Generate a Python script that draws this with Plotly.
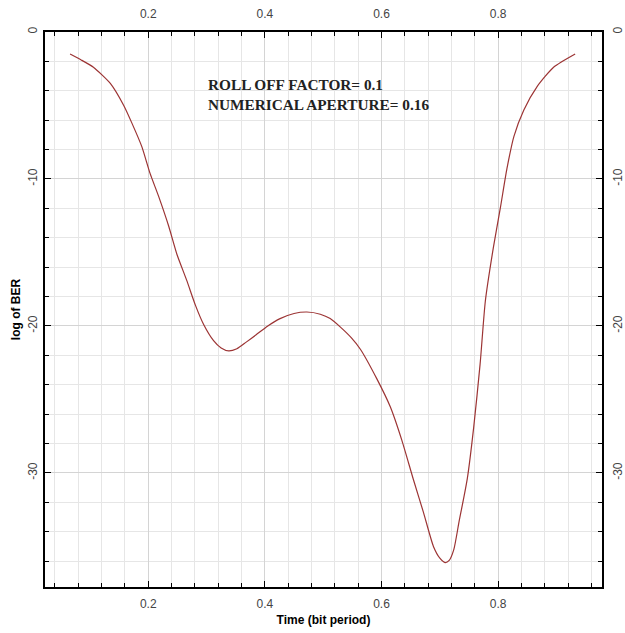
import plotly.graph_objects as go

# Data
time_bit_period = [0.066, 0.085, 0.106, 0.135, 0.158, 0.172, 0.189, 0.203, 0.218, 0.235,
                   0.249, 0.266, 0.281, 0.295, 0.312, 0.325, 0.338, 0.352, 0.368, 0.385,
                   0.405, 0.426, 0.450, 0.472, 0.495, 0.512, 0.530, 0.548, 0.564, 0.592,
                   0.615, 0.635, 0.655, 0.672, 0.689, 0.700, 0.709, 0.716, 0.724, 0.733,
                   0.747, 0.758, 0.769, 0.778, 0.792, 0.804, 0.815, 0.827, 0.844, 0.867,
                   0.895, 0.932]
log_ber = [-1.5, -1.9, -2.4, -3.5, -5.0, -6.2, -7.8, -9.6, -11.2, -13.2,
           -15.1, -16.9, -18.6, -19.9, -21.0, -21.5, -21.7, -21.55, -21.1, -20.6,
           -20.0, -19.5, -19.15, -19.05, -19.2, -19.5, -20.1, -20.8, -21.6, -23.6,
           -25.5, -27.8, -30.5, -32.7, -35.0, -35.8, -36.1, -35.95, -35.2, -33.3,
           -30.4, -26.9, -22.6, -18.3, -14.6, -11.9, -9.3, -7.1, -5.3, -3.7,
           -2.4, -1.5]

x_ticks = [0.2, 0.4, 0.6, 0.8]
y_ticks = [0, -10, -20, -30]
annotation_lines = ["ROLL OFF FACTOR= 0.1", "NUMERICAL APERTURE= 0.16"]

x_range = [0.023, 0.978]
y_range = [-37.76, 0]

fig = go.Figure()
fig.add_trace(go.Scatter(x=time_bit_period, y=log_ber, mode="lines",
                         line=dict(color="#9c3434", width=1.2, shape="spline", smoothing=0.6),
                         showlegend=False, hoverinfo="skip"))
# invisible copy to activate the mirrored (top/right) labelled axes
fig.add_trace(go.Scatter(x=time_bit_period, y=log_ber, mode="lines", xaxis="x2", yaxis="y2",
                         line=dict(color="rgba(0,0,0,0)", width=0), showlegend=False,
                         hoverinfo="skip"))

tickfont = dict(family="Arial, Liberation Sans", size=12, color="#444")
grid_major = "#d4d4d4"
grid_minor = "#e6e6e6"

common_x = dict(range=x_range, tickvals=x_ticks, ticktext=[str(v) for v in x_ticks],
                tickfont=tickfont, showline=True, linecolor="black", linewidth=2,
                ticks="inside", ticklen=6, tickcolor="black", zeroline=False, automargin=False)
common_y = dict(range=y_range, tickvals=y_ticks, ticktext=[str(v) for v in y_ticks],
                tickfont=tickfont, tickangle=-90, showline=True, linecolor="black", linewidth=2,
                ticks="inside", ticklen=6, tickcolor="black", zeroline=False, automargin=False)

fig.update_layout(
    width=625, height=633,
    margin=dict(l=45, r=23, t=32, b=46),
    paper_bgcolor="white", plot_bgcolor="white",
    xaxis=dict(**common_x, side="bottom", showgrid=True, gridcolor=grid_major, gridwidth=1,
               ticklabelstandoff=5,
               minor=dict(dtick=0.04, tick0=0, showgrid=True, gridcolor=grid_minor,
                          ticks="inside", ticklen=4, tickcolor="black"),
               title=dict(text="<b>Time (bit period)</b>",
                          font=dict(family="Arial, Liberation Sans", size=12, color="black"),
                          standoff=5)),
    yaxis=dict(**common_y, side="left", showgrid=True, gridcolor=grid_major, gridwidth=1,
               ticklabelstandoff=1,
               minor=dict(dtick=2, tick0=0, showgrid=True, gridcolor=grid_minor,
                          ticks="inside", ticklen=4, tickcolor="black"),
               title=dict(text="<b>log of BER</b>",
                          font=dict(family="Arial, Liberation Sans", size=12, color="black"),
                          standoff=3)),
    xaxis2=dict(**common_x, side="top", overlaying="x", showgrid=False, ticklabelstandoff=7,
                minor=dict(dtick=0.04, tick0=0, ticks="inside", ticklen=4, tickcolor="black")),
    yaxis2=dict(**common_y, side="right", overlaying="y", showgrid=False, ticklabelstandoff=4,
                minor=dict(dtick=2, tick0=0, ticks="inside", ticklen=4, tickcolor="black")),
)

ann_y = [-3.6, -4.95]
for txt, yy in zip(annotation_lines, ann_y):
    fig.add_annotation(x=0.299, y=yy, xref="x", yref="y", text="<b>" + txt + "</b>",
                       showarrow=False, xanchor="left", yanchor="middle",
                       font=dict(family="Liberation Serif, Times New Roman", size=15.3, color="#222"))

fig.write_html("out.html")
